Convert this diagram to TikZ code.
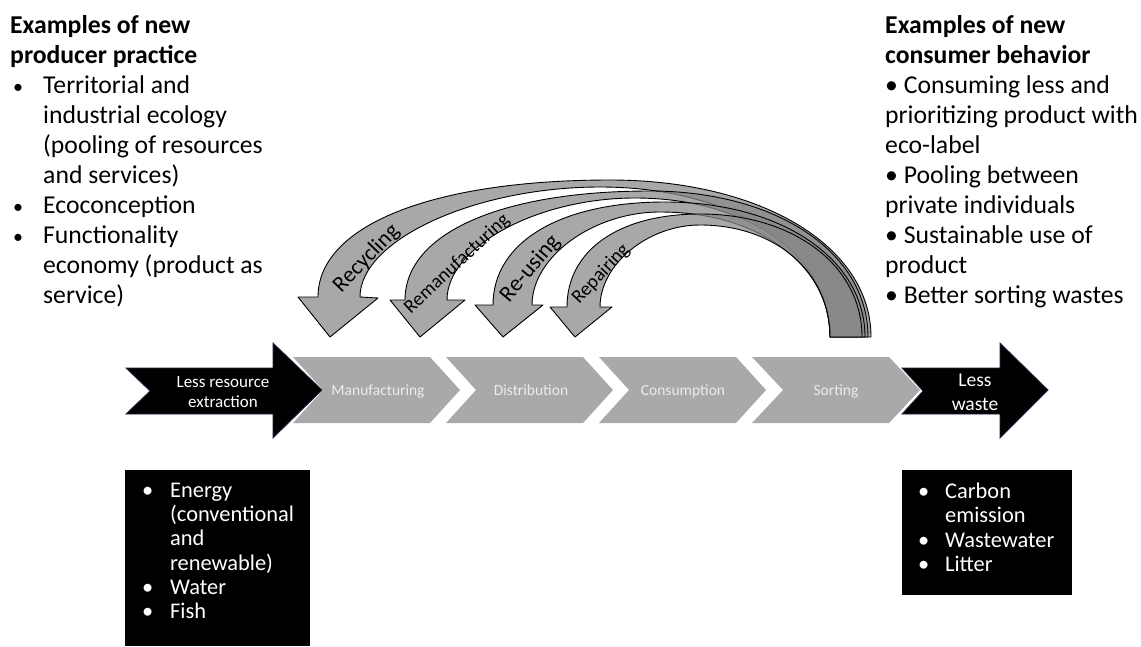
\documentclass[tikz,border=0pt]{standalone}
\usepackage{fontspec}
\setmainfont{Carlito}
\definecolor{chevgray}{RGB}{170,168,168}
\definecolor{chevtext}{RGB}{236,236,236}
\definecolor{loopgray}{RGB}{136,136,136}
\definecolor{navyedge}{RGB}{28,38,66}
\newcommand{\fs}[2]{\fontsize{#1}{#2}\selectfont}
\newcommand{\blt}{\makebox[30pt][l]{{\fs{20}{30}•}}}
% control factors: left outer edge, left inner edge, right-hand quarter
\def\ko{0.61}
\def\ki{0.52}
\def\kr{0.58}
\begin{document}
\begin{tikzpicture}[x=1pt,y=-1pt,
  chev/.style={fill=chevgray,draw=none},
  flowarrow/.style={fill=black,draw=navyedge,line width=0.8pt,line join=miter},
  loop/.style={fill=loopgray,fill opacity=0.73,draw=black,line width=0.9pt,line join=round},
  looplabel/.style={text=black,inner sep=0pt,text height=0.68em,text depth=0.2em},
  chevlabel/.style={text=chevtext,font=\fs{15.5}{18},inner sep=0pt,anchor=base},
  boxtext/.style={text=white,align=left,inner sep=0pt,anchor=north west,font=\fs{22.4}{24.2}},
  sidetext/.style={align=left,inner sep=0pt,anchor=north west,font=\fs{25.7}{30}}]
\useasboundingbox (0,0) rectangle (1141,646);

% process chevrons
\fill[chev] (293,357) -- ++(137,0) -- ++(30,33) -- ++(-30,33) -- ++(-137,0) -- ++(30,-33) -- cycle;
\fill[chev] (446,357) -- ++(137,0) -- ++(30,33) -- ++(-30,33) -- ++(-137,0) -- ++(30,-33) -- cycle;
\fill[chev] (599,357) -- ++(137,0) -- ++(30,33) -- ++(-30,33) -- ++(-137,0) -- ++(30,-33) -- cycle;
\fill[chev] (752,357) -- ++(137,0) -- ++(31,33) -- ++(-31,33) -- ++(-137,0) -- ++(31,-33) -- cycle;
\node[chevlabel] (manu) at (378,395.5) {Manufacturing};
\node[chevlabel] (dist) at (531,395.5) {Distribution};
\node[chevlabel] (cons) at (683,395.5) {Consumption};
\node[chevlabel] (sort) at (836,395.5) {Sorting};

% input and output arrows
\draw[flowarrow] (126,368) -- (273,368) -- (273,343) -- (322,390) -- (273,438) -- (273,414) -- (126,414) -- (150,391) -- cycle;
\node[text=white,align=center,inner sep=0pt,font=\fs{17}{20}] (extract) at (223,392) {Less resource\\extraction};
\draw[flowarrow] (902,368) -- (1000,368) -- (1000,343) -- (1048,390) -- (1000,438) -- (1000,414) -- (902,414) -- (923,391) -- cycle;
\node[text=white,align=center,inner sep=0pt,font=\fs{19.5}{24}] (waste) at (975,392) {Less\\waste};

% loops from sorting back to the earlier stages
\draw[loop] (830,337) .. controls +(0,{-\kr*150}) and +({\kr*230},0) .. (600,187)
  .. controls +({-\ki*240},0) and +(0,{-\ki*110}) .. (360,297)
  -- (378,298) -- (330,337) -- (298,297) -- (318,297)
  .. controls +(0,{-\ko*117}) and +({-\ko*292},0) .. (610,180)
  .. controls +({\kr*261},0) and +(0,{-\kr*157}) .. (871,337) -- cycle;
\draw[loop] (830,337) .. controls +(0,{-\kr*139}) and +({\kr*195},0) .. (635,198)
  .. controls +({-\ki*188},0) and +(0,{-\ki*102}) .. (447,300)
  -- (465,300) -- (420,337) -- (390,300) -- (405,300)
  .. controls +(0,{-\ko*109}) and +({-\ko*245},0) .. (650,191)
  .. controls +({\kr*218},0) and +(0,{-\kr*146}) .. (868,337) -- cycle;
\draw[loop] (830,337) .. controls +(0,{-\kr*125}) and +({\kr*170},0) .. (660,212)
  .. controls +({-\ki*128},0) and +(0,{-\ki*93}) .. (532,305)
  -- (543,305) -- (503,337) -- (475,305) -- (493,305)
  .. controls +(0,{-\ko*103}) and +({-\ko*172},0) .. (665,202)
  .. controls +({\kr*200},0) and +(0,{-\kr*135}) .. (865,337) -- cycle;
\draw[loop] (830,337) .. controls +(0,{-\kr*112}) and +({\kr*130},0) .. (700,225)
  .. controls +({-\ki*100},0) and +(0,{-\ki*82}) .. (600,307)
  -- (612,307) -- (575,337) -- (550,307) -- (567,307)
  .. controls +(0,{-\ko*93}) and +({-\ko*133},0) .. (700,214)
  .. controls +({\kr*162},0) and +(0,{-\kr*123}) .. (862,337) -- cycle;

% loop labels
\node[looplabel,rotate=46,font=\fs{22.5}{26}] (recy) at (369,261) {Recycling};
\node[looplabel,rotate=43,font=\fs{19.5}{22}] (reman) at (459,266) {Remanufacturing};
\node[looplabel,rotate=50,font=\fs{23}{26}] (reuse) at (533,271) {Re-using};
\node[looplabel,rotate=47,font=\fs{19.5}{22}] (repair) at (603,276) {Repairing};

% resource and emission boxes
\fill[black] (125,470) rectangle (310,646);
\node[boxtext] (inputs) at (142,483) {\makebox[28pt][l]{•}Energy\\
  \hspace*{28pt}(conventional\\ \hspace*{28pt}and\\ \hspace*{28pt}renewable)\\
  \makebox[28pt][l]{•}Water\\ \makebox[28pt][l]{•}Fish};
\fill[black] (902,470) rectangle (1072,595);
\node[boxtext] (outputs) at (918,483) {\makebox[27pt][l]{•}Carbon\\
  \hspace*{27pt}emission\\ \makebox[27pt][l]{•}Wastewater\\ \makebox[27pt][l]{•}Litter};

% producer and consumer texts
\node[sidetext] (producer) at (10,15) {\textbf{Examples of new}\\ \textbf{producer practice}\\
  \hspace*{3pt}\blt Territorial and\\ \hspace*{33pt}industrial ecology\\
  \hspace*{33pt}(pooling of resources\\ \hspace*{33pt}and services)\\
  \hspace*{3pt}\blt Ecoconception\\ \hspace*{3pt}\blt Functionality\\
  \hspace*{33pt}economy (product as\\ \hspace*{33pt}service)};
\node[sidetext] (consumer) at (885,15) {\textbf{Examples of new}\\ \textbf{consumer behavior}\\
  • Consuming less and\\ prioritizing product with\\ eco-label\\
  • Pooling between\\ private individuals\\ • Sustainable use of\\ product\\
  • Better sorting wastes};
\end{tikzpicture}
\end{document}
